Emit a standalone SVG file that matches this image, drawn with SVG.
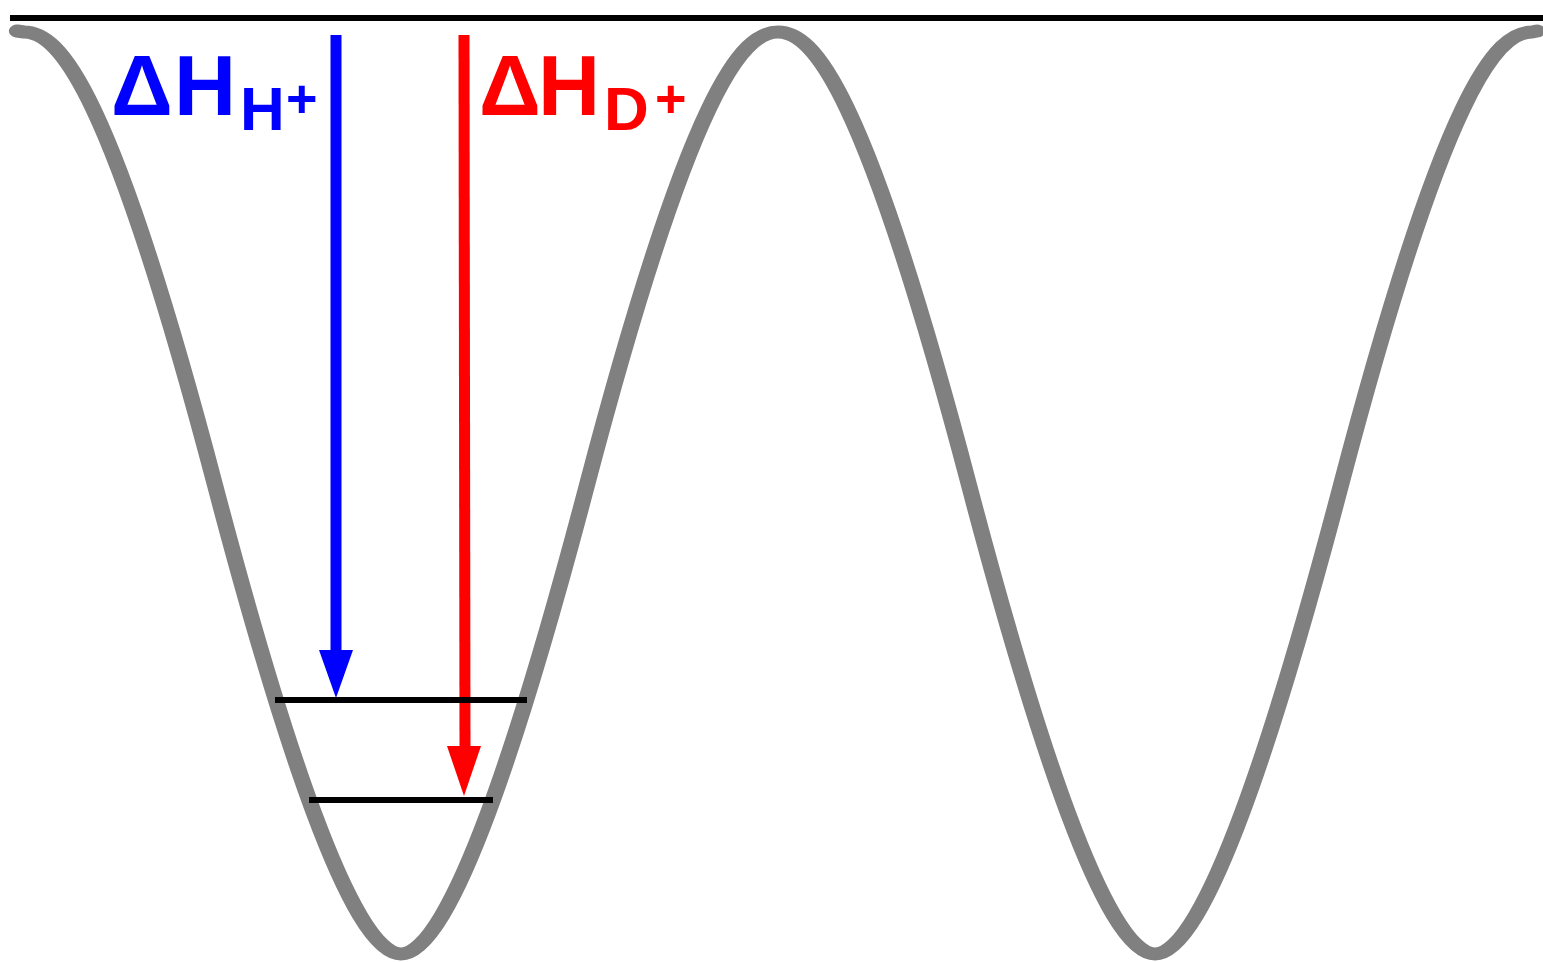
<svg xmlns="http://www.w3.org/2000/svg" width="1543" height="962" viewBox="0 0 1543 962">
<style>
.curve{fill:none;stroke:#808080;stroke-width:13;stroke-linecap:round;stroke-linejoin:round}
.level{stroke:#000;stroke-width:6}
.lbl{font-family:"Liberation Sans",Arial,sans-serif;font-weight:bold}
</style>
<rect width="1543" height="962" fill="#fff"/>
<g id="potential">
<path class="curve" transform="scale(1.25,1)" d="M 13.6,31 L 19.2,32 C 47.2,32 88,86 172,485 C 224,732 280.8,954 320.8,954 C 360.8,954 417.6,732 469.6,485 C 553.6,86 594.4,32 622.4,32 C 650.4,32 691.2,86 775.2,485 C 827.2,732 884,954 924,954 C 964,954 1020.8,732 1072.8,485 C 1156.8,86 1197.6,32 1225.6,32 L 1229.6,31"/>
</g>
<g id="connectors">
<g id="arrow-h">
<line x1="336" y1="35" x2="336" y2="656" stroke="#0000ff" stroke-width="11"/>
<polygon points="319,650 353,650 336,698" fill="#0000ff"/>
</g>
<g id="arrow-d">
<line x1="464" y1="35" x2="465" y2="752" stroke="#ff0000" stroke-width="11"/>
<polygon points="447,746 481,746 464,796" fill="#ff0000"/>
</g>
</g>
<g id="level-1"><line class="level" x1="275" y1="700" x2="527" y2="700"/></g>
<g id="level-2"><line class="level" x1="309" y1="800" x2="493" y2="800"/></g>
<g id="top-line"><line class="level" x1="10" y1="18" x2="1543" y2="18"/></g>
<g id="label-h">
<text class="lbl" fill="#0000ff"><tspan x="111" y="115" font-size="86">Δ</tspan><tspan x="174" y="115" font-size="86">H</tspan><tspan x="240" y="130" font-size="62">H</tspan><tspan x="286" y="117" font-size="54">+</tspan></text>
</g>
<g id="label-d">
<text class="lbl" fill="#ff0000"><tspan x="479" y="115" font-size="86">Δ</tspan><tspan x="538" y="115" font-size="86">H</tspan><tspan x="604" y="130" font-size="62">D</tspan><tspan x="655" y="117" font-size="54">+</tspan></text>
</g>
</svg>
